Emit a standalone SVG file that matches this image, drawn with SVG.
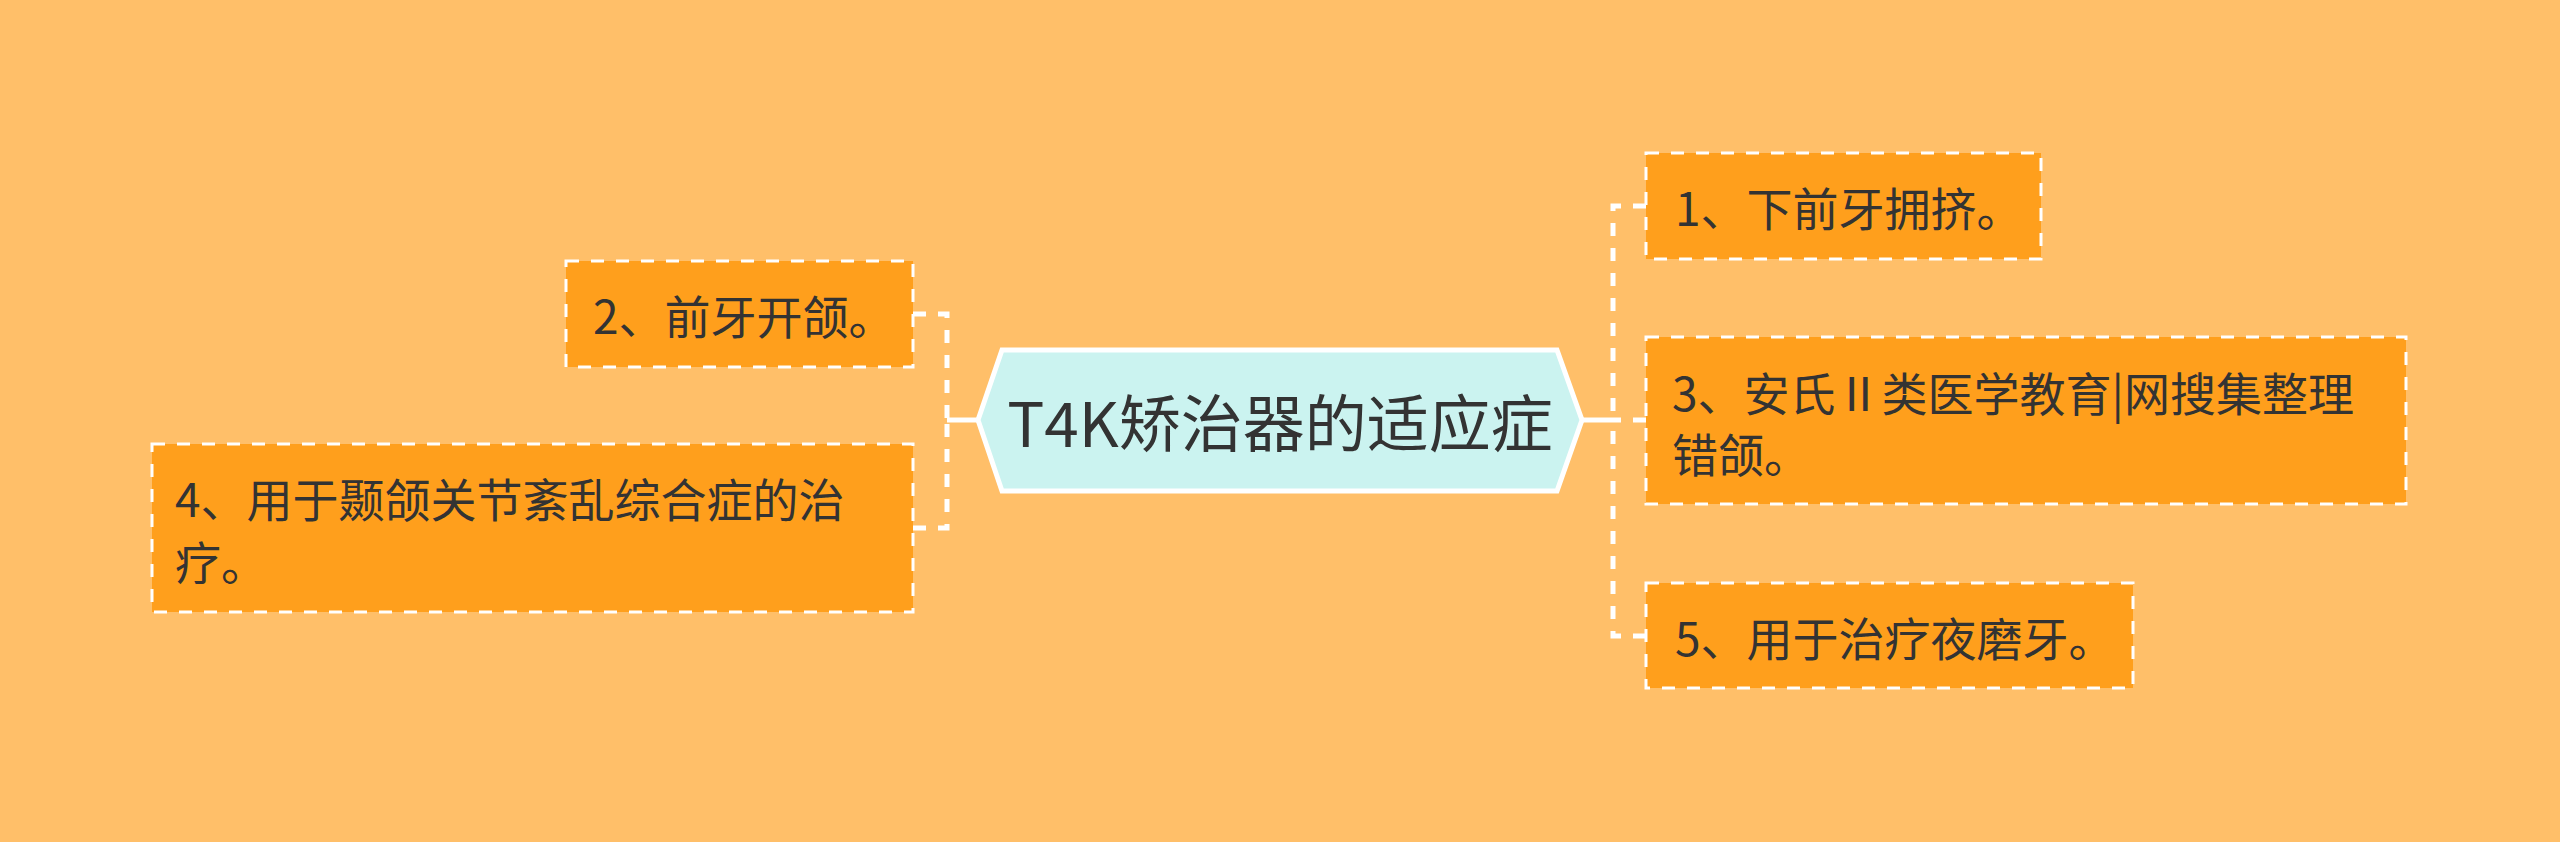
<svg xmlns="http://www.w3.org/2000/svg" width="2560" height="842" viewBox="0 0 2560 842">
  <style>
    .bg { fill: #FFBF69; }
    .child rect { fill: #FF9F1C; stroke: #FFFFFF; stroke-width: 3; stroke-dasharray: 13 12; }
    .child text { font-family: "Noto Sans CJK SC", "Noto Sans", sans-serif; font-size: 46px; fill: #333333; dominant-baseline: central; }
    .root polygon { fill: #CBF3F0; stroke: #FFFFFF; stroke-width: 5; stroke-linejoin: miter; }
    .root text { font-family: "Noto Sans CJK SC", "Noto Sans", sans-serif; font-size: 62px; fill: #333333; dominant-baseline: central; text-anchor: middle; }
    .trunk { fill: none; stroke: #FFFFFF; stroke-width: 5; }
    .branch { fill: none; stroke: #FFFFFF; stroke-width: 5; stroke-dasharray: 13 12; }
  </style>
  <rect class="bg" x="0" y="0" width="2560" height="842"/>

  <g id="connectors">
    <path class="trunk" d="M1582,420 H1613"/>
    <path class="branch" d="M1646,206 H1613 V420"/>
    <path class="branch" d="M1646,420 H1613"/>
    <path class="branch" d="M1646,636 H1613 V420"/>
    <path class="trunk" d="M978,420 H947"/>
    <path class="branch" d="M913,314 H947 V420"/>
    <path class="branch" d="M913,528 H947 V420"/>
  </g>

  <g id="root" class="root">
    <polygon points="978,420 1002,350 1557,350 1582,420 1557,491 1002,491"/>
    <text x="1280" y="420">T4K矫治器的适应症</text>
  </g>

  <g id="node1" class="child">
    <rect x="1646" y="153" width="395" height="106"/>
    <text x="1675" y="206">1、下前牙拥挤。</text>
  </g>

  <g id="node2" class="child">
    <rect x="566" y="261" width="347" height="106"/>
    <text x="593" y="314">2、前牙开颌。</text>
  </g>

  <g id="node3" class="child">
    <rect x="1646" y="337" width="760" height="167"/>
    <text x="1672" y="391">3、安氏Ⅱ类医学教育|网搜集整理</text>
    <text x="1672" y="452">错颌。</text>
  </g>

  <g id="node4" class="child">
    <rect x="152" y="444" width="761" height="168"/>
    <text x="175" y="497">4、用于颞颌关节紊乱综合症的治</text>
    <text x="175" y="560">疗。</text>
  </g>

  <g id="node5" class="child">
    <rect x="1646" y="583" width="487" height="105"/>
    <text x="1675" y="636">5、用于治疗夜磨牙。</text>
  </g>
</svg>
